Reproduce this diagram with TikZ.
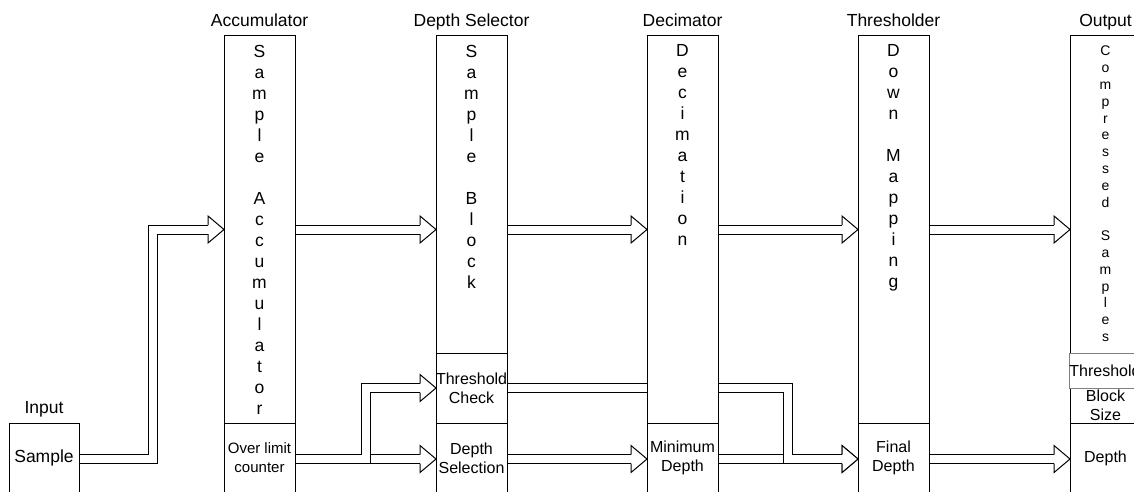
\documentclass[tikz,border=0pt]{standalone}
\usepackage{fontspec}
\setmainfont{Liberation Sans}
\usetikzlibrary{calc,backgrounds}
\tikzset{
  box/.style={draw=black, line width=1pt, fill=white, inner sep=0pt, outer sep=0pt,
    anchor=north west, minimum width=71pt, align=center, font=\fontsize{16}{19}\selectfont},
  coltext/.style={inner sep=0pt, anchor=north, align=center, font=\fontsize{17.5}{21}\selectfont},
  title/.style={inner sep=0pt, anchor=base, font=\fontsize{17.5}{21}\selectfont},
  body/.style={line width=1pt, draw=black, double=white, double distance=8pt, line join=miter},
  headst/.style={line width=1pt, draw=black, fill=white, line join=miter},
}
\newcommand\fhead[1]{\draw[headst] ($#1+(-16,-4.5)$) -- ($#1+(-16,-13.5)$) -- #1 -- ($#1+(-16,13.5)$) -- ($#1+(-16,4.5)$);}
\begin{document}
\begin{tikzpicture}[x=1pt,y=-1pt]
\useasboundingbox (0,0) rectangle (1134,492);
\clip (0,0) rectangle (1134,492);
\coordinate (yA) at (0,229.5);
\coordinate (yT) at (0,388);
\coordinate (yB) at (0,459);
\coordinate (ty) at (0,26.7);
\coordinate (k1) at (152.5,229.5);
\coordinate (k2) at (365.5,388);
\coordinate (k3) at (787.8,459);

% boxes
\node[box, minimum width=70pt, minimum height=70pt, font=\fontsize{17.5}{21}\selectfont] (inp) at (9,423) {Sample};
\node[box, minimum height=387pt] (acc) at (224,36) {};
\node[box, minimum height=70pt, font=\fontsize{15}{19}\selectfont] (accb) at (224,423) {Over limit\\counter};
\node[box, minimum height=317pt] (ds) at (436,36) {};
\node[box, minimum height=70pt] (dsth) at (436,353) {Threshold\\Check};
\node[box, minimum height=70pt] (dsb) at (436,423) {Depth\\Selection};
\node[box, minimum height=387pt] (dec) at (647,36) {};
\node[box, minimum height=70pt] (decb) at (647,423) {Minimum\\Depth};
\node[box, minimum height=387pt] (thr) at (858,36) {};
\node[box, minimum height=70pt] (thrb) at (858,423) {Final\\Depth};
\node[box, minimum height=317pt] (out) at (1070,36) {};
\node[box, minimum height=35pt] (outbs) at (1070,388) {Block\\Size};
\node[box, minimum height=70pt] (outb) at (1070,423) {Depth};
\node[box, draw=gray, minimum width=72pt, minimum height=35pt] (outth) at (1069,353) {Threshold};

% column texts
\node[coltext] (acct) at ($(acc.north)+(0,8.6)$) {S\\a\\m\\p\\l\\e\\~\\A\\c\\c\\u\\m\\u\\l\\a\\t\\o\\r};
\node[coltext] (dst) at ($(ds.north)+(0,8.6)$) {S\\a\\m\\p\\l\\e\\~\\B\\l\\o\\c\\k};
\node[coltext] (dect) at ($(dec.north)+(0,8.6)$) {D\\e\\c\\i\\m\\a\\t\\i\\o\\n};
\node[coltext] (thrt) at ($(thr.north)+(0,8.6)$) {D\\o\\w\\n\\~\\M\\a\\p\\p\\i\\n\\g};
\node[coltext, font=\fontsize{14}{16.8}\selectfont] (outt) at ($(out.north)+(0,10)$) {C\\o\\m\\p\\r\\e\\s\\s\\e\\d\\~\\S\\a\\m\\p\\l\\e\\s};

% titles
\node[title] (l1) at (inp.north |- 0,413.3) {Input};
\node[title] (l2) at (acc.north |- ty) {Accumulator};
\node[title] (l3) at (ds.north |- ty) {Depth Selector};
\node[title] (l4) at (dec.north |- ty) {Decimator};
\node[title] (l5) at (thr.north |- ty) {Thresholder};
\node[title] (l6) at (out.north |- ty) {Output};

% arrows
\begin{scope}[on background layer]
\draw[body] (inp.east |- yB) -| (k1) -- ($(acc.west |- yA)+(-16,0)$);
\fhead{(acc.west |- yA)}
\draw[body] (acc.east |- yA) -- ($(ds.west |- yA)+(-16,0)$);
\fhead{(ds.west |- yA)}
\draw[body] (ds.east |- yA) -- ($(dec.west |- yA)+(-16,0)$);
\fhead{(dec.west |- yA)}
\draw[body] (dec.east |- yA) -- ($(thr.west |- yA)+(-16,0)$);
\fhead{(thr.west |- yA)}
\draw[body] (thr.east |- yA) -- ($(out.west |- yA)+(-16,0)$);
\fhead{(out.west |- yA)}

\draw[body] (accb.east |- yB) -- ($(dsb.west |- yB)+(-16,0)$);
\fhead{(dsb.west |- yB)}
\draw[body] (accb.east |- yB) -| (k2) -- ($(dsth.west |- yT)+(-16,0)$);
\fhead{(dsth.west |- yT)}

\draw[body] (dsb.east |- yB) -- ($(decb.west |- yB)+(-16,0)$);
\fhead{(decb.west |- yB)}
\draw[body] (decb.east |- yB) -- ($(thrb.west |- yB)+(-16,0)$);
\fhead{(thrb.west |- yB)}
\draw[body] (dsth.east |- yT) -| (k3) -- ($(thrb.west |- yB)+(-16,0)$);
\fhead{(thrb.west |- yB)}
\draw[body] (thrb.east |- yB) -- ($(outb.west |- yB)+(-16,0)$);
\fhead{(outb.west |- yB)}
\end{scope}
\end{tikzpicture}
\end{document}
